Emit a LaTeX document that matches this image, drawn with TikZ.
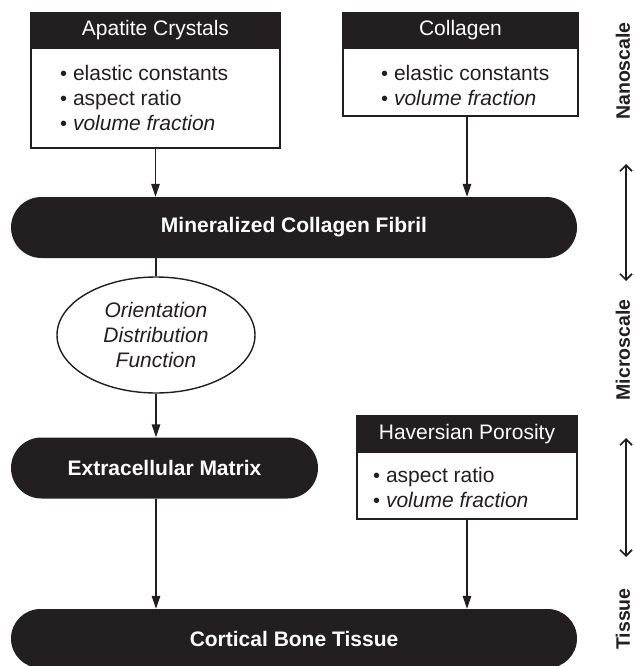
\documentclass[tikz,border=0pt]{standalone}
\usepackage{fontspec}
\setmainfont{Liberation Sans}
\usetikzlibrary{arrows.meta,shapes.misc,shapes.geometric}
\definecolor{ink}{HTML}{231F20}
\begin{document}
\begin{tikzpicture}[x=1pt,y=-1pt,
  head/.style={draw=ink,line width=1.6pt,fill=ink,text=white,inner sep=0pt,font=\fontsize{21}{25}\selectfont},
  body/.style={draw=ink,line width=1.6pt,fill=white,inner sep=0pt},
  list/.style={anchor=west,align=left,inner sep=0pt,text=ink,font=\fontsize{21}{25}\selectfont},
  bar/.style={rounded rectangle,fill=ink,text=white,inner sep=0pt,minimum height=61pt,font=\bfseries\fontsize{21}{25}\selectfont},
  arr/.style={draw=ink,line width=1.5pt,-{Triangle[length=13pt,width=8.5pt]}},
  dbl/.style={draw=ink,line width=1.7pt,{Straight Barb[length=6pt,width=12pt,line width=1.7pt]}-{Straight Barb[length=6pt,width=12pt,line width=1.7pt]}},
  scalelbl/.style={rotate=90,text=ink,inner sep=0pt,font=\bfseries\fontsize{19.5}{20}\selectfont}]
\useasboundingbox (0,0) rectangle (634,666);
\newcommand{\bul}{{\fontsize{20}{20}\selectfont•}\ }
% Apatite
\node[body,minimum width=249pt,minimum height=100pt] (apB) at (155.5,98) {};
\node[head,minimum width=249pt,minimum height=35pt] (apH) at (155.5,30.5) {Apatite Crystals};
\node[list] (apT) at (60,98) {\bul elastic constants\\\bul aspect ratio\\\bul \textit{volume fraction}};
% Collagen
\node[body,minimum width=235pt,minimum height=68pt] (colB) at (460.5,82) {};
\node[head,minimum width=235pt,minimum height=35pt] (colH) at (460.5,30.5) {Collagen};
\node[list] (colT) at (381,85.5) {\bul elastic constants\\\bul \textit{volume fraction}};
\coordinate (colx) at (467,116);
% Fibril
\node[bar,minimum width=566pt] (fib) at (294,227.5) {Mineralized Collagen Fibril};
% ODF
\node[ellipse,draw=ink,line width=1.4pt,minimum width=198pt,minimum height=116pt,inner sep=0pt,align=center,text=ink,font=\itshape\fontsize{21}{25}\selectfont] (odf) at (156,335) {Orientation\\Distribution\\Function};
% ECM
\node[bar,minimum width=307pt] (ecm) at (164.5,468) {Extracellular Matrix};
% Haversian
\node[body,minimum width=220pt,minimum height=67pt] (havB) at (467,485.5) {};
\node[head,minimum width=220pt,minimum height=36pt] (havH) at (467,434) {Haversian Porosity};
\node[list] (havT) at (373,487.5) {\bul aspect ratio\\\bul \textit{volume fraction}};
% Cortical
\node[bar,minimum width=566pt,minimum height=59pt] (cort) at (294,638.5) {Cortical Bone Tissue};
% connectors
\draw[arr] (apB.south) -- (apB.south |- fib.north);
\draw[arr] (colx) -- (colx |- fib.north);
\draw[draw=ink,line width=1.5pt] (fib.south -| odf.north) -- (odf.north);
\draw[arr] (odf.south) -- (odf.south |- ecm.north);
\draw[arr] (ecm.south -| odf.south) -- (odf.south |- cort.north);
\draw[arr] (havB.south) -- (havB.south |- cort.north);
% scale labels
\node[scalelbl] (nano) at (623,71) {Nanoscale};
\node[scalelbl] (micro) at (623,350) {Microscale};
\node[scalelbl] (tis) at (623,619) {Tissue};
\coordinate (a1t) at (626,164);
\coordinate (a1b) at (626,281);
\coordinate (a2t) at (626,438);
\coordinate (a2b) at (626,557);
\draw[dbl] (a1t) -- (a1b);
\draw[dbl] (a2t) -- (a2b);
\end{tikzpicture}
\end{document}
